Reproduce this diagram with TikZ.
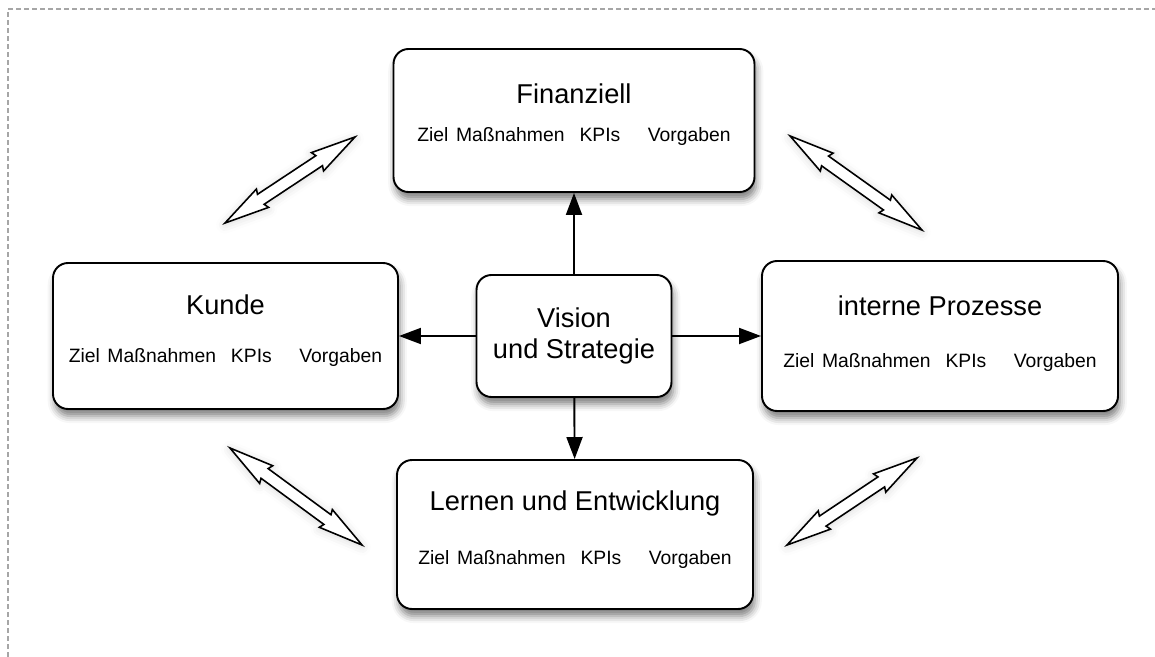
\documentclass[tikz,border=0pt]{standalone}
\usepackage{fontspec}
\setmainfont{Liberation Sans}
\usetikzlibrary{arrows.meta,shadows.blur}

\newcommand{\zielrow}{Ziel\hspace{0.15cm}Maßnahmen\hspace{0.3cm}KPIs\hspace{0.55cm}Vorgaben}
% hollow double arrow: x, y, angle, length
\newcommand{\twoway}[4]{%
  \draw[dbl, shift={(#1,#2)}, rotate=#3]
    ({-#4/2},0) -- ({-#4/2+0.9},0.22) -- ({-#4/2+0.86},0.12) -- ({#4/2-0.86},0.12)
    -- ({#4/2-0.9},0.22) -- ({#4/2},0) -- ({#4/2-0.9},-0.22) -- ({#4/2-0.86},-0.12)
    -- ({-#4/2+0.86},-0.12) -- ({-#4/2+0.9},-0.22) -- cycle;}

\begin{document}
\begin{tikzpicture}[
  box/.style={draw, line width=1.1pt, rounded corners=0.3cm, fill=white,
    blur shadow={shadow xshift=1pt, shadow yshift=-4pt, shadow blur radius=4pt, shadow opacity=50}},
  title/.style={font=\fontsize{15.5}{17.5}\selectfont, align=center},
  row/.style={font=\fontsize{11}{13}\selectfont},
  link/.style={line width=1.1pt, -{Triangle[length=4.4mm,width=3.2mm]}},
  dbl/.style={draw, line width=0.9pt, fill=white, line join=miter,
    blur shadow={shadow xshift=0pt, shadow yshift=-1pt, shadow blur radius=5pt, shadow opacity=15}}
]
  \useasboundingbox (0,0) rectangle (23.1,-13.14);
  \draw[gray!70, line width=0.6pt, dash pattern=on 0.1cm off 0.06cm] (0.16,-13.14) -- (0.16,-0.18) -- (23.1,-0.18);

  \node[box, minimum width=7.22cm, minimum height=2.86cm] (fin) at (11.48,-2.41) {};
  \node[title] (fint) at ([yshift=-0.92cm]fin.north) {Finanziell};
  \node[row] (finr) at ([yshift=-1.76cm]fin.north) {\zielrow};

  \node[box, minimum width=6.9cm, minimum height=2.92cm] (kun) at (4.51,-6.72) {};
  \node[title] (kunt) at ([yshift=-0.86cm]kun.north) {Kunde};
  \node[row] (kunr) at ([yshift=-1.9cm]kun.north) {\zielrow};

  \node[box, minimum width=7.12cm, minimum height=3.0cm] (pro) at (18.80,-6.72) {};
  \node[title] (prot) at ([yshift=-0.92cm]pro.north) {interne Prozesse};
  \node[row] (pror) at ([yshift=-2.04cm]pro.north) {\zielrow};

  \node[box, minimum width=7.12cm, minimum height=2.98cm] (ler) at (11.50,-10.69) {};
  \node[title] (lert) at ([yshift=-0.88cm]ler.north) {Lernen und Entwicklung};
  \node[row] (lerr) at ([yshift=-2.0cm]ler.north) {\zielrow};

  \node[box, title, minimum width=3.9cm, minimum height=2.44cm] (vis) at (11.48,-6.72) {Vision\\und Strategie};

  % Vision to the four views
  \draw[link] (vis) -- (fin);
  \draw[link] (vis) -- (kun);
  \draw[link] (vis) -- (pro);
  \draw[link] (vis) -- (ler);

  % double arrows between the views
  \twoway{5.80}{-3.60}{33.5}{3.12}
  \twoway{17.12}{-3.66}{-35.5}{3.24}
  \twoway{5.92}{-9.93}{-36.3}{3.28}
  \twoway{17.04}{-10.03}{33.8}{3.13}
\end{tikzpicture}
\end{document}
